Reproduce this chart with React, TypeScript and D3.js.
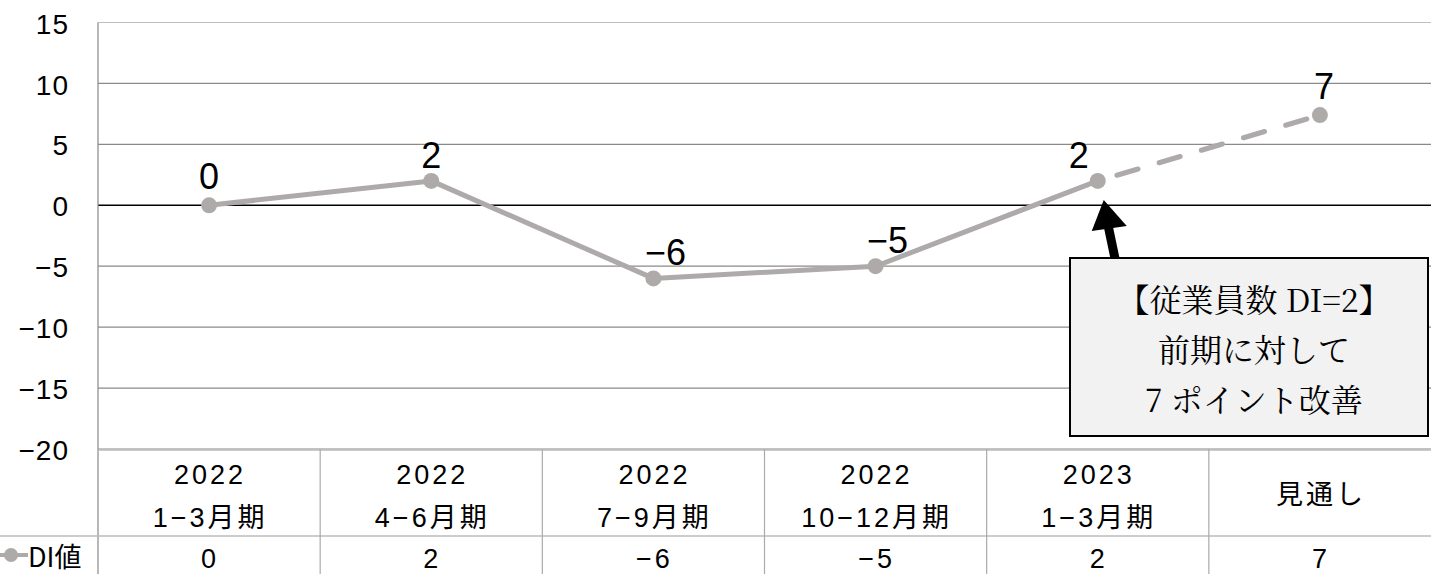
import React from "react";
import * as d3 from "d3";

const years = ["2022", "2022", "2022", "2022", "2023", ""];
const periods = ["1−3月期", "4−6月期", "7−9月期", "10−12月期", "1−3月期", "見通し"];
const values = [0, 2, -6, -5, 2, 7.4];
const yTicks = [15, 10, 5, 0, -5, -10, -15, -20];
const seriesName = "DI値";
const noteLines = ["【従業員数 DI=2】", "前期に対して", "7 ポイント改善"];

const W = 1431;
const H = 574;
const left = 98;
const right = 1431;
const top = 22.5;
const bottom = 449;

const fmt = (v: number) => {
  const r = Math.round(v);
  return r < 0 ? "−" + Math.abs(r) : String(r);
};

export default function App() {
  const x = d3.scaleBand<number>().domain(d3.range(values.length)).range([left, right]);
  const y = d3.scaleLinear().domain([-20, 15]).range([bottom, top]);
  const cx = (i: number) => (x(i) as number) + x.bandwidth() / 2;
  const solid = d3.line<number>().x((_, i) => cx(i)).y((d) => y(d))(values.slice(0, 5)) as string;
  const dashed = d3.line<number>().x((_, i) => cx(i + 4)).y((d) => y(d))(values.slice(4)) as string;
  const gray = "#aeaaaa";
  const sans = "'Liberation Sans', Arial, sans-serif";
  const tableFont = "'Liberation Sans', 'Noto Sans CJK JP', sans-serif";
  const jp = "'Noto Sans CJK JP', sans-serif";
  const labelOffsets: [number, number][] = [
    [0, -29],
    [0, -26],
    [12, -26],
    [12, -26],
    [-19, -26],
    [4, -29],
  ];
  const tipX = cx(4) + 6;
  const tipY = y(values[4]) + 19;
  return (
    <svg width={W} height={H} style={{ position: "absolute", left: 0, top: 0, background: "#fff" }}>
      {yTicks.map((t) => (
        <line key={t} x1={left} x2={right} y1={y(t)} y2={y(t)} stroke={t === 0 ? "#000" : t === 15 ? "#bfbfbf" : "#8a8a8a"} strokeWidth={t === 0 ? 1.6 : 1.2} />
      ))}
      <line x1={left} x2={left} y1={top} y2={H} stroke="#888" strokeWidth={1.2} />
      {yTicks.map((t) => (
        <text key={t} x={69} y={y(t) + 1} dy="0.36em" textAnchor="end" fontFamily={sans} fontSize={28} letterSpacing={1} fill="#000">
          {fmt(t)}
        </text>
      ))}
      {/* table */}
      <line x1={left} x2={right} y1={bottom + 1} y2={bottom + 1} stroke="#bbb" strokeWidth={1.5} />
      <line x1={0} x2={right} y1={536} y2={536} stroke="#bbb" strokeWidth={1.5} />
      {values.map((_, i) =>
        i > 0 ? (
          <line key={i} x1={x(i) as number} x2={x(i) as number} y1={bottom} y2={H} stroke="#aaa" strokeWidth={1.2} />
        ) : null
      )}
      {values.map((_, i) => (
        <g key={i} fontFamily={tableFont} fontSize={27} fill="#000" textAnchor="middle" letterSpacing={3}>
          {years[i] ? (
            <>
              <text x={cx(i) + 1} y={474} dy="0.36em">{years[i]}</text>
              <text x={cx(i) + 1} y={517} dy="0.36em">{periods[i]}</text>
            </>
          ) : (
            <text x={cx(i) + 1} y={494} dy="0.36em">{periods[i]}</text>
          )}
          <text x={cx(i) + 1} y={558} dy="0.36em">{fmt(values[i])}</text>
        </g>
      ))}
      <line x1={0} x2={28} y1={555} y2={555} stroke={gray} strokeWidth={4} />
      <circle cx={11} cy={555} r={7} fill={gray} />
      <text x={28} y={557} dy="0.36em" fontFamily={jp} fontSize={27} fill="#000">{seriesName}</text>
      {/* series */}
      <path d={solid} fill="none" stroke={gray} strokeWidth={5} strokeLinejoin="round" />
      <path d={dashed} fill="none" stroke={gray} strokeWidth={5} strokeDasharray="22 22" strokeDashoffset={-20} strokeLinecap="round" />
      {values.map((v, i) => (
        <circle key={i} cx={cx(i)} cy={y(v)} r={8} fill={gray} />
      ))}
      {values.map((v, i) => (
        <text key={i} x={cx(i) + labelOffsets[i][0]} y={y(v) + labelOffsets[i][1]} dy="0.36em" textAnchor="middle" fontFamily={sans} fontSize={36} fill="#000">
          {fmt(v)}
        </text>
      ))}
      {/* annotation */}
      <line x1={1117} y1={268} x2={tipX + 4} y2={tipY + 24} stroke="#000" strokeWidth={9} />
      <polygon points={`${tipX},${tipY} ${tipX - 12},${tipY + 31} ${tipX + 23},${tipY + 26}`} fill="#000" />
      <rect x={1070} y={258} width={358} height={178} fill="#f2f2f2" stroke="#000" strokeWidth={2} />
      {noteLines.map((s, i) => (
        <text key={i} x={1254} y={300 + i * 50} dy="0.36em" textAnchor="middle" fontFamily="'Noto Serif CJK JP', 'DejaVu Serif', serif" fontSize={32} fill="#000">
          {s}
        </text>
      ))}
    </svg>
  );
}
